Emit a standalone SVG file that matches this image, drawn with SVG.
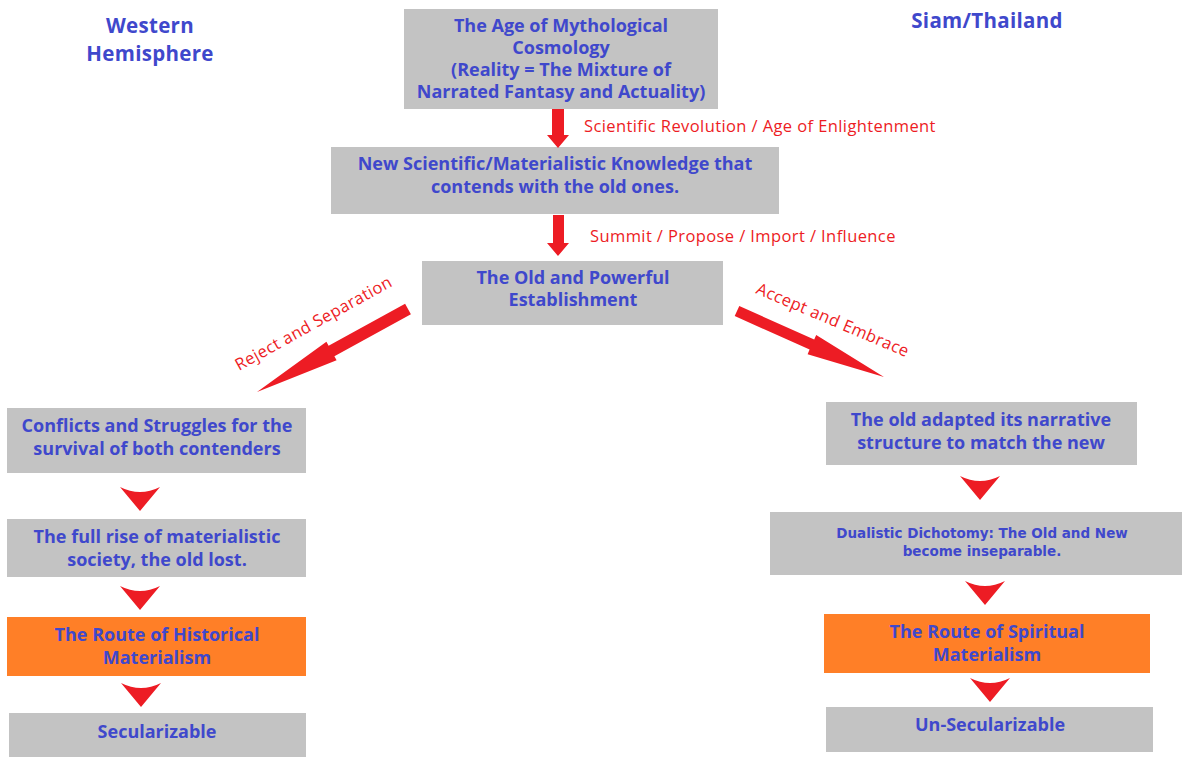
<svg xmlns="http://www.w3.org/2000/svg" width="1182" height="757" viewBox="0 0 1182 757">
  <style>
    .box { fill: #c3c3c3; }
    .hot { fill: #ff7f27; }
    .t { font-family: "Open Sans", Lato, sans-serif; font-weight: bold; font-size: 18px; fill: #3f48cc; text-anchor: middle; }
    .ts { font-family: "DejaVu Sans", sans-serif; font-weight: bold; font-size: 13.5px; fill: #3f48cc; text-anchor: middle; }
    .head { font-family: "Open Sans", Lato, sans-serif; font-weight: bold; font-size: 20.5px; letter-spacing: 0.3px; fill: #3f48cc; text-anchor: middle; }
    .lbl { font-family: "Open Sans", Lato, sans-serif; font-size: 16.5px; letter-spacing: 0.4px; fill: #ed1c24; }
    .arr { fill: #ed1c24; }
  </style>
  <defs>
    <path id="chev" d="M-20,-12 Q0,-2 20,-12 L0,12 Z"/>
  </defs>
  <rect width="1182" height="757" fill="#ffffff"/>

  <!-- column headings -->
  <text class="head" x="150" y="33">Western</text>
  <text class="head" x="150" y="61">Hemisphere</text>
  <text class="head" x="987" y="28">Siam/Thailand</text>

  <g id="n-myth">
    <rect class="box" x="404" y="9" width="314" height="100"/>
    <text class="t" x="561" y="32">The Age of Mythological</text>
    <text class="t" x="561" y="54">Cosmology</text>
    <text class="t" x="561" y="76">(Reality = The Mixture of</text>
    <text class="t" x="561" y="98">Narrated Fantasy and Actuality)</text>
  </g>
  <g id="n-science">
    <rect class="box" x="331" y="147" width="448" height="67"/>
    <text class="t" x="555" y="170">New Scientific/Materialistic Knowledge that</text>
    <text class="t" x="555" y="193">contends with the old ones.</text>
  </g>
  <g id="n-establishment">
    <rect class="box" x="422" y="261" width="301" height="64"/>
    <text class="t" x="573" y="284">The Old and Powerful</text>
    <text class="t" x="573" y="306">Establishment</text>
  </g>

  <g id="n-conflicts">
    <rect class="box" x="7" y="408" width="299" height="65"/>
    <text class="t" x="157" y="432">Conflicts and Struggles for the</text>
    <text class="t" x="157" y="455">survival of both contenders</text>
  </g>
  <g id="n-rise">
    <rect class="box" x="7" y="519" width="299" height="58"/>
    <text class="t" x="157" y="543">The full rise of materialistic</text>
    <text class="t" x="157" y="566">society, the old lost.</text>
  </g>
  <g id="n-historical">
    <rect class="hot" x="7" y="617" width="299" height="59"/>
    <text class="t" x="157" y="641">The Route of Historical</text>
    <text class="t" x="157" y="664">Materialism</text>
  </g>
  <g id="n-secular">
    <rect class="box" x="9" y="713" width="297" height="44"/>
    <text class="t" x="157" y="738">Secularizable</text>
  </g>

  <g id="n-adapted">
    <rect class="box" x="826" y="402" width="311" height="63"/>
    <text class="t" x="981" y="426">The old adapted its narrative</text>
    <text class="t" x="981" y="449">structure to match the new</text>
  </g>
  <g id="n-dualistic">
    <rect class="box" x="770" y="512" width="412" height="63"/>
    <text class="ts" x="982" y="538">Dualistic Dichotomy: The Old and New</text>
    <text class="ts" x="982" y="556">become inseparable.</text>
  </g>
  <g id="n-spiritual">
    <rect class="hot" x="824" y="614" width="326" height="59"/>
    <text class="t" x="987" y="638">The Route of Spiritual</text>
    <text class="t" x="987" y="661">Materialism</text>
  </g>
  <g id="n-unsecular">
    <rect class="box" x="826" y="707" width="327" height="45"/>
    <text class="t" x="990" y="731">Un-Secularizable</text>
  </g>

  <g id="connectors">
    <!-- vertical block arrows -->
    <path class="arr" d="M552,109 H564 V135 H569 L558,148 L547,135 H552 Z"/>
    <text class="lbl" x="584" y="132">Scientific Revolution / Age of Enlightenment</text>
    <path class="arr" d="M553,215 H564 V243 H569 L558,256 L547,243 H553 Z"/>
    <text class="lbl" x="590" y="242">Summit / Propose / Import / Influence</text>

    <!-- diagonal split -->
    <path class="arr" d="M405.1,303.7 L410.9,314.3 L334.4,356.3 L336.6,360.2 L257,392 L326.4,341.8 L328.6,345.7 Z"/>
    <text class="lbl" transform="translate(239,371) rotate(-29)">Reject and Separation</text>
    <path class="arr" d="M739.3,306 L814.2,339.6 L816.2,335 L884,377 L807.6,354.2 L809.6,349.6 L734.7,316 Z"/>
    <text class="lbl" transform="translate(755,293) rotate(23)">Accept and Embrace</text>

    <!-- chevrons down each column -->
    <use href="#chev" class="arr" x="140" y="499"/>
    <use href="#chev" class="arr" x="140" y="598"/>
    <use href="#chev" class="arr" x="141" y="695"/>
    <use href="#chev" class="arr" x="980" y="488"/>
    <use href="#chev" class="arr" x="985" y="593"/>
    <use href="#chev" class="arr" x="990" y="690"/>
  </g>
</svg>
